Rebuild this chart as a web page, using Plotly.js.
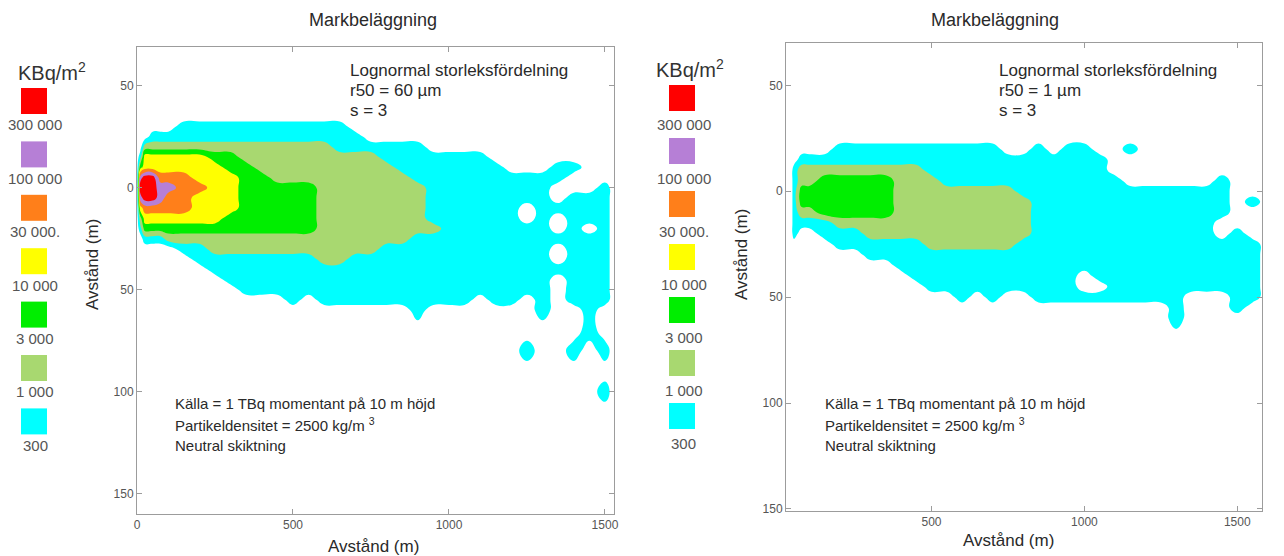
<!DOCTYPE html>
<html>
<head>
<meta charset="utf-8">
<script src="https://cdn.plot.ly/plotly-3.0.1.min.js"></script>
<style>
html,body{margin:0;padding:0;background:#fff;}
#chart{width:1284px;height:556px;}
</style>
</head>
<body>
<div id="chart"></div>
<script>
// ---------------- DATA ----------------
// Deposition level thresholds (kBq/m2) and their legend labels
const levelValues = [300, 1000, 3000, 10000, 30000, 100000, 300000];
const levelLabels = ["300", "1 000", "3 000", "10 000", "30 000.", "100 000", "300 000"];
// band code 0 = below 300, 1 = 300-1000, ... 7 = above 300 000
const bandColors = ["#ffffff", "#00ffff", "#a8d870", "#00ee00", "#ffff00", "#ff7f1a", "#b67fd6", "#ff0000"];

// crosswind distance rows (m)
const rowsY = [-40,-35,-30,-25,-20,-15,-10,-5,0,5,10,15,20,25,30,35,40,45,50,55,60,70,80,90,100,110];

const xTicks = [0, 500, 1000, 1500];
const xTickText = ["0", "500", "1000", "1500"];
const yTicks = [-50, 0, 50, 100, 150];
const yTickText = ["50", "0", "50", "100", "150"];

// Left panel (r50 = 60 µm): downwind positions (m)
const leftX = [0,10,25,50,75,100,150,200,250,300,350,400,450,500,550,600,650,700,750,800,850,900,950,1000,1050,1100,1150,1200,1250,1300,1350,1400,1450,1500,1530];
// band code per row (rowsY order) for each downwind column
const leftBands = [
  "00000 00000 00000 00000 000000", // 0
  "00000 13676 42100 00000 000000", // 10
  "00002 44777 54310 00000 000000", // 25
  "00012 44777 54310 00000 000000", // 50
  "00012 44566 54310 00000 000000", // 75
  "00012 44565 54320 00000 000000", // 100
  "00112 44555 54321 00000 000000", // 150
  "00112 44454 44321 10000 000000", // 200
  "00112 34444 44322 11000 000000", // 250
  "00112 33444 43322 11100 000000", // 300
  "00112 23333 33322 11110 000000", // 350
  "00112 22333 33322 11110 000000", // 400
  "00112 22233 33322 11110 000000", // 450
  "00112 22233 33322 11111 000000", // 500
  "00112 22233 33322 11110 000000", // 550
  "00112 22222 22222 21111 000000", // 600
  "00111 22222 22222 21111 000000", // 650
  "00011 22222 22222 11111 000000", // 700
  "00001 22222 22222 11111 000000", // 750
  "00001 12222 22221 11111 000000", // 800
  "00001 11222 22221 11111 000000", // 850
  "00001 11122 22211 11111 100000", // 900
  "00000 11111 11211 11111 000000", // 950
  "00000 11111 11111 11111 000000", // 1000
  "00000 11111 11111 11111 000000", // 1050
  "00000 11111 11111 11110 000000", // 1100
  "00000 01111 11111 11111 000000", // 1150
  "00000 00111 11111 11111 000000", // 1200
  "00000 00111 00111 11110 001000", // 1250
  "00000 00111 11111 11111 100000", // 1300
  "00000 01100 10010 01000 000000", // 1350
  "00000 01001 11111 11111 001000", // 1400
  "00000 00001 11011 11111 110000", // 1450
  "00000 00011 11111 11111 001010", // 1500
  "00000 00000 00000 00000 000000"  // 1530
];

// Right panel (r50 = 1 µm): downwind positions (m)
const rightX = [0,40,50,75,100,150,200,250,300,350,400,450,500,550,600,650,700,750,800,850,900,950,1000,1050,1100,1150,1200,1250,1300,1350,1400,1450,1500,1550,1600];
const rightBands = [
  "00000 00000 00000 00000 000000", // 0
  "00000 00000 00000 00000 000000", // 40
  "00000 01111 11100 00000 000000", // 50
  "00000 12233 21000 00000 000000", // 75
  "00000 12233 21000 00000 000000", // 100
  "00000 12333 31100 00000 000000", // 150
  "00001 12333 32110 00000 000000", // 200
  "00001 12333 32110 00000 000000", // 250
  "00001 12333 32211 00000 000000", // 300
  "00001 12333 32211 00000 000000", // 350
  "00001 12222 22211 10000 000000", // 400
  "00001 12222 22211 11000 000000", // 450
  "00001 11222 22221 11100 000000", // 500
  "00001 11122 22221 11100 000000", // 550
  "00001 11122 22221 11110 000000", // 600
  "00001 11122 22221 11100 000000", // 650
  "00001 11122 22221 11110 000000", // 700
  "00000 11122 22221 11100 000000", // 750
  "00000 11112 22211 11100 000000", // 800
  "00001 11111 11111 11110 000000", // 850
  "00000 11111 11111 11110 000000", // 900
  "00001 11111 11111 11110 000000", // 950
  "00001 11111 11111 10010 000000", // 1000
  "00000 11111 11111 11010 000000", // 1050
  "00000 00111 11111 11110 000000", // 1100
  "00001 00011 11111 11110 000000", // 1150
  "00000 00011 11111 11110 000000", // 1200
  "00000 00011 11111 11110 000000", // 1250
  "00000 00011 11111 11111 100000", // 1300
  "00000 00011 11111 11100 000000", // 1350
  "00000 00011 11111 11100 000000", // 1400
  "00000 00111 10011 11100 000000", // 1450
  "00000 00000 00111 11111 000000", // 1500
  "00000 00001 00011 11110 000000", // 1550
  "00000 00000 00000 00000 000000"  // 1600
];

// ---------------- BUILD ----------------
const W = 1284, H = 556;
const FONT = 'Liberation Sans, Arial, Helvetica, sans-serif';
const PX = v => v / W;
const PY = v => 1 - v / H;

function toZ(cols) {
  const parsed = cols.map(s => {
    const a = s.replace(/\s+/g, '').split('').map(Number);
    while (a.length < rowsY.length) a.push(0);
    return a.slice(0, rowsY.length);
  });
  return rowsY.map((_, r) => parsed.map(col => col[r]));
}

function contourTrace(xs, cols, xa, ya) {
  return {
    type: 'contour', x: xs, y: rowsY, z: toZ(cols), xaxis: xa, yaxis: ya,
    zmin: 0, zmax: 7, autocontour: false,
    contours: {start: 0.5, end: 6.5, size: 1, coloring: 'fill', showlines: false},
    colorscale: bandColors.map((c, i) => [i / 7, c]),
    line: {width: 0, smoothing: 1.3}, showscale: false, hoverinfo: 'skip'
  };
}

const axBase = {
  showline: true, linecolor: '#9c9c9c', linewidth: 1, mirror: 'ticks',
  ticks: 'inside', ticklen: 5, tickcolor: '#9c9c9c', tickwidth: 1,
  showgrid: false, zeroline: false, fixedrange: true,
  tickfont: {family: FONT, size: 12, color: '#555'}
};

function txt(x, y, text, size, extra) {
  return Object.assign({
    xref: 'paper', yref: 'paper', x: PX(x), y: PY(y), text: text, showarrow: false,
    font: {family: FONT, size: size, color: '#2a2a2a'}, xanchor: 'center', yanchor: 'middle'
  }, extra || {});
}

const shapes = [];
const annotations = [];

// legends (custom keys) for both panels
const legendSpecs = [
  {boxX: 21, top: 88, step: 53.4, labX: 35, labOff: 37, headX: 52, headY: 72},
  {boxX: 669, top: 85, step: 53, labX: 684, labOff: 40, headX: 690, headY: 68}
];
legendSpecs.forEach(L => {
  annotations.push(txt(L.headX, L.headY, 'KBq/m<sup>2</sup>', 20, {font: {family: FONT, size: 20, color: '#333'}}));
  for (let i = 0; i < levelLabels.length; i++) {
    const lvl = levelLabels.length - 1 - i;
    const top = L.top + i * L.step;
    shapes.push({type: 'rect', xref: 'paper', yref: 'paper',
      x0: PX(L.boxX), x1: PX(L.boxX + 26), y0: PY(top + 26), y1: PY(top),
      fillcolor: bandColors[lvl + 1], line: {width: 0}});
    annotations.push(txt(L.labX, top + L.labOff, levelLabels[lvl], 15, {font: {family: FONT, size: 15, color: '#555'}}));
  }
});

// titles
annotations.push(txt(373, 20, 'Markbeläggning', 18));
annotations.push(txt(995, 20, 'Markbeläggning', 18));
annotations.push(txt(373, 546, 'Avstånd (m)', 17));
annotations.push(txt(1009, 540, 'Avstånd (m)', 17));
annotations.push(txt(93, 264, 'Avstånd (m)', 17, {textangle: -90}));
annotations.push(txt(741, 255, 'Avstånd (m)', 17, {textangle: -90}));

// panel texts
const panelText = [
  {x: 348, r50: 'r50 = 60 µm', bx: 173},
  {x: 997, r50: 'r50 = 1 µm', bx: 823}
];
panelText.forEach(p => {
  annotations.push(txt(p.x, 70, 'Lognormal storleksfördelning', 17, {xanchor: 'left'}));
  annotations.push(txt(p.x, 91, p.r50, 17, {xanchor: 'left'}));
  annotations.push(txt(p.x, 111, 's = 3', 17, {xanchor: 'left'}));
  annotations.push(txt(p.bx, 403, 'Källa = 1 TBq momentant på 10 m höjd', 15, {xanchor: 'left'}));
  annotations.push(txt(p.bx, 424, 'Partikeldensitet = 2500 kg/m <sup>3</sup>', 15, {xanchor: 'left'}));
  annotations.push(txt(p.bx, 445, 'Neutral skiktning', 15, {xanchor: 'left'}));
});

const layout = {
  width: W, height: H, margin: {l: 0, r: 0, t: 0, b: 0},
  paper_bgcolor: '#ffffff', plot_bgcolor: '#ffffff', showlegend: false,
  xaxis: Object.assign({}, axBase, {domain: [PX(137), PX(614)], range: [0, 1529], tickvals: xTicks, ticktext: xTickText, anchor: 'y'}),
  yaxis: Object.assign({}, axBase, {domain: [PY(514), PY(47)], range: [160, -69], tickvals: yTicks, ticktext: yTickText, anchor: 'x'}),
  xaxis2: Object.assign({}, axBase, {domain: [PX(786), PX(1262)], range: [24, 1581], tickvals: xTicks, ticktext: xTickText, anchor: 'y2'}),
  yaxis2: Object.assign({}, axBase, {domain: [PY(511), PY(43)], range: [151, -70], tickvals: yTicks, ticktext: yTickText, anchor: 'x2'}),
  shapes: shapes,
  annotations: annotations
};

Plotly.newPlot('chart', [
  contourTrace(leftX, leftBands, 'x', 'y'),
  contourTrace(rightX, rightBands, 'x2', 'y2')
], layout, {displayModeBar: false, staticPlot: true});
</script>
</body>
</html>
